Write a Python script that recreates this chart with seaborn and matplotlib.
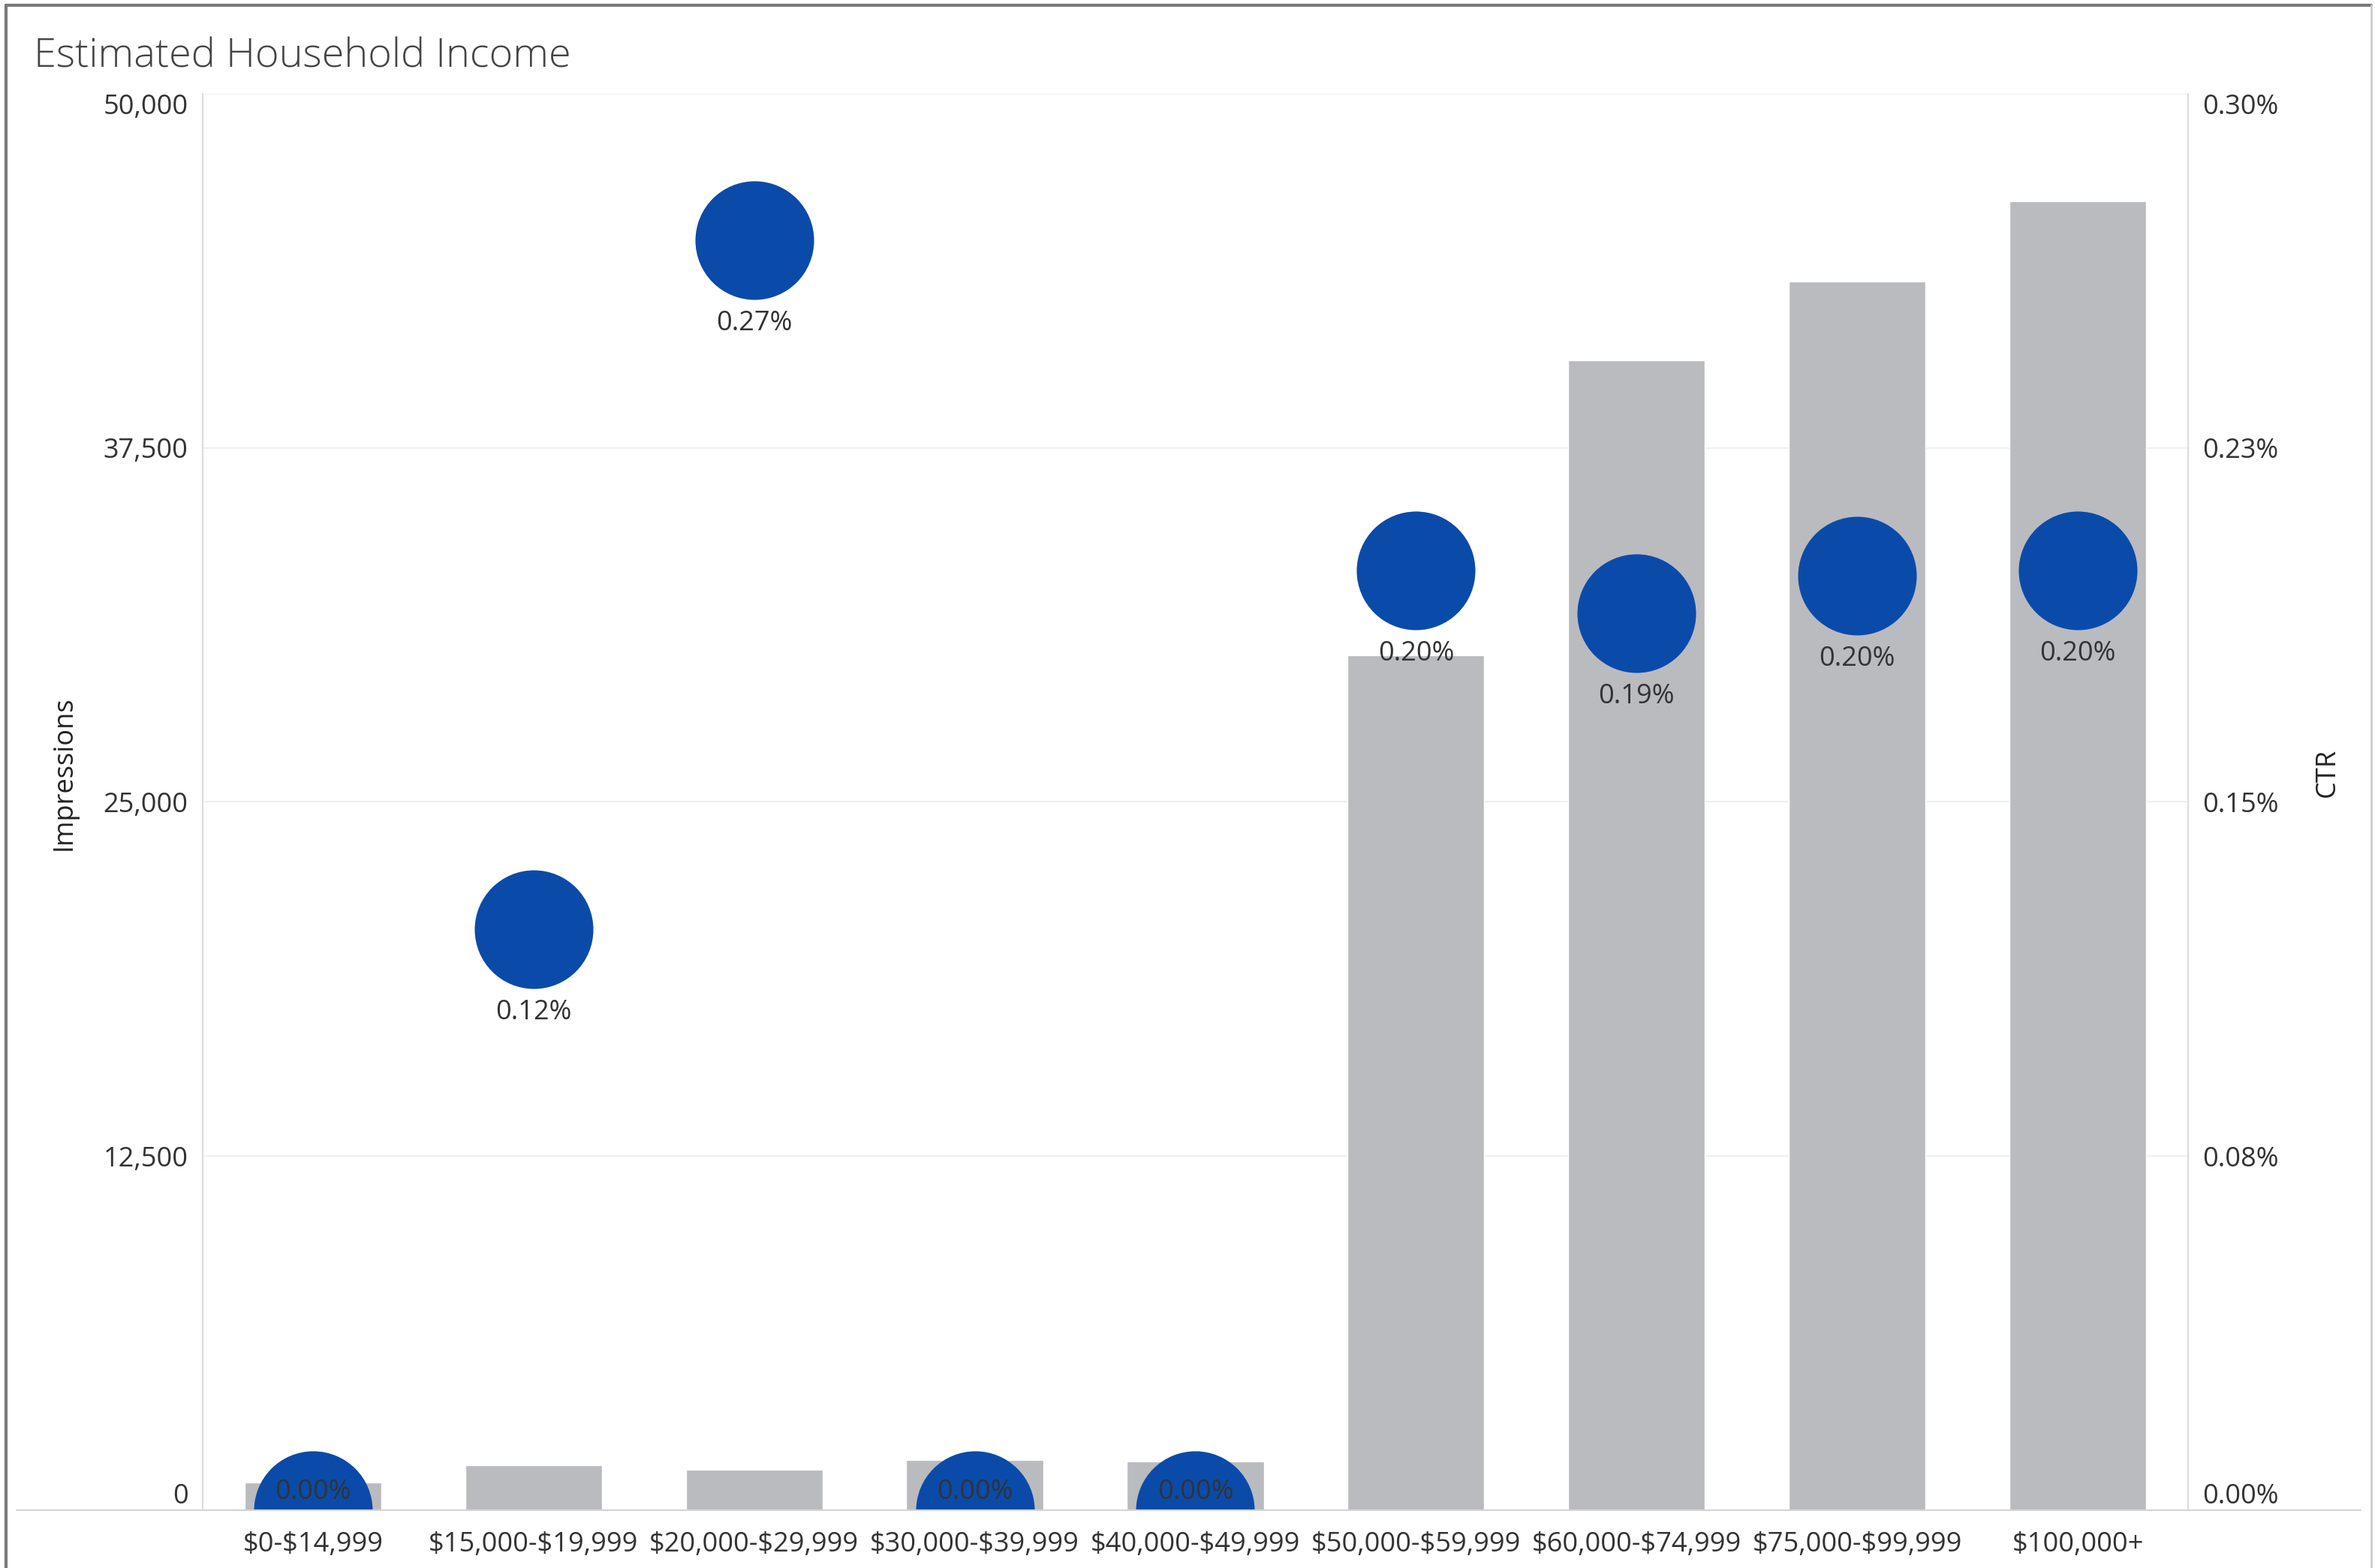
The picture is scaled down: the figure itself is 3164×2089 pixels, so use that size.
import numpy as np
import pandas as pd
import matplotlib
matplotlib.use("Agg")
import matplotlib.pyplot as plt
from matplotlib.lines import Line2D
import seaborn as sns

# data
income_bands = ["$0-$14,999", "$15,000-$19,999", "$20,000-$29,999", "$30,000-$39,999",
                "$40,000-$49,999", "$50,000-$59,999", "$60,000-$74,999",
                "$75,000-$99,999", "$100,000+"]
impressions = [980, 1590, 1430, 1780, 1725, 30190, 40580, 43370, 46210]
ctr = [0.0, 0.00123, 0.00269, 0.0, 0.0, 0.00199, 0.00190, 0.00198, 0.00199]
ctr_labels = ["0.00%", "0.12%", "0.27%", "0.00%", "0.00%", "0.20%", "0.19%", "0.20%", "0.20%"]

imp_ticks = [0, 12500, 25000, 37500, 50000]
imp_tick_labels = ["0", "12,500", "25,000", "37,500", "50,000"]
ctr_ticks = [0, 0.00075, 0.0015, 0.00225, 0.003]
ctr_tick_labels = ["0.00%", "0.08%", "0.15%", "0.23%", "0.30%"]

df = pd.DataFrame({"band": income_bands, "impressions": impressions, "ctr": ctr})

sns.set_theme(style="white")
plt.rcParams["font.family"] = ["Open Sans", "DejaVu Sans"]
plt.rcParams["text.parse_math"] = False  # dollar signs are plain text here

bar_color = "#babbbe"
dot_color = "#0a4baa"
text_color = "#333333"
fs = 26

fig = plt.figure(figsize=(31.64, 20.89), dpi=100)
ax = fig.add_axes([0.0853, 0.0369, 0.9213 - 0.0853, 0.9402 - 0.0369])

sns.barplot(data=df, x="band", y="impressions", color=bar_color, width=0.62,
            saturation=1, ax=ax, zorder=2)
ax.set_xlim(-0.5, 8.5)
ax.set_ylim(0, 50000)
ax.set_yticks(imp_ticks)
ax.set_yticklabels(imp_tick_labels)
ax.yaxis.grid(True, color="#f0f0f0", linewidth=1.5, zorder=0)
ax.set_axisbelow(True)
ax.set_xlabel("")
ax.set_ylabel("")
ax.tick_params(axis="both", length=0, labelsize=fs, colors=text_color)
ax.tick_params(axis="y", pad=14)
ax.tick_params(axis="x", pad=20)
for side in ["top", "bottom"]:
    ax.spines[side].set_visible(False)
for side in ["left", "right"]:
    ax.spines[side].set_color("#dcdcdc")
    ax.spines[side].set_linewidth(1.5)

ax2 = ax.twinx()
sns.scatterplot(data=df, x="band", y="ctr", s=12950, color=dot_color,
                linewidth=0, ax=ax2, zorder=3)
ax2.set_ylim(0, 0.003)
ax2.set_yticks(ctr_ticks)
ax2.set_yticklabels(ctr_tick_labels)
ax2.set_ylabel("")
ax2.set_xlabel("")
ax2.tick_params(axis="y", length=0, labelsize=fs, colors=text_color, pad=14)
for side in ["top", "bottom", "left"]:
    ax2.spines[side].set_visible(False)
ax2.spines["right"].set_color("#dcdcdc")
ax2.spines["right"].set_linewidth(1.5)

# labels under the dots (inside when the dot sits on the baseline)
for i, (v, lab) in enumerate(zip(ctr, ctr_labels)):
    off = 17 if v == 0 else -80
    ax2.annotate(lab, (i, v), xytext=(0, off), textcoords="offset points",
                 ha="center", va="center", fontsize=fs, color=text_color, zorder=4)

# end labels are pushed inside, like Tableau does
for axis in (ax, ax2):
    labs = axis.get_yticklabels()
    labs[0].set_va("bottom")
    labs[-1].set_va("top")

fig.text(0.0142, 0.9635, "Estimated Household Income", fontsize=39,
         color="#444444", ha="left", va="center", fontweight="light")
fig.text(0.0269, 0.507, "Impressions", rotation=90, fontsize=fs,
         color="#222222", ha="center", va="center")
fig.text(0.980, 0.507, "CTR", rotation=90, fontsize=fs,
         color="#222222", ha="center", va="center")

# baseline across the whole pane and the outer frame
fig.add_artist(Line2D([0.007, 0.994], [0.0369, 0.0369], color="#d4d4d4", linewidth=1.5))
frame = dict(color="#7a7a7a", linewidth=3)
fig.add_artist(Line2D([0.0025, 0.0025], [0, 0.9967], **frame))
fig.add_artist(Line2D([0.0025, 0.9985], [0.9967, 0.9967], **frame))
fig.add_artist(Line2D([0.9985, 0.9985], [0, 0.9967], color="#cccccc", linewidth=2))

fig.savefig("out.png", dpi=100, facecolor="white")
